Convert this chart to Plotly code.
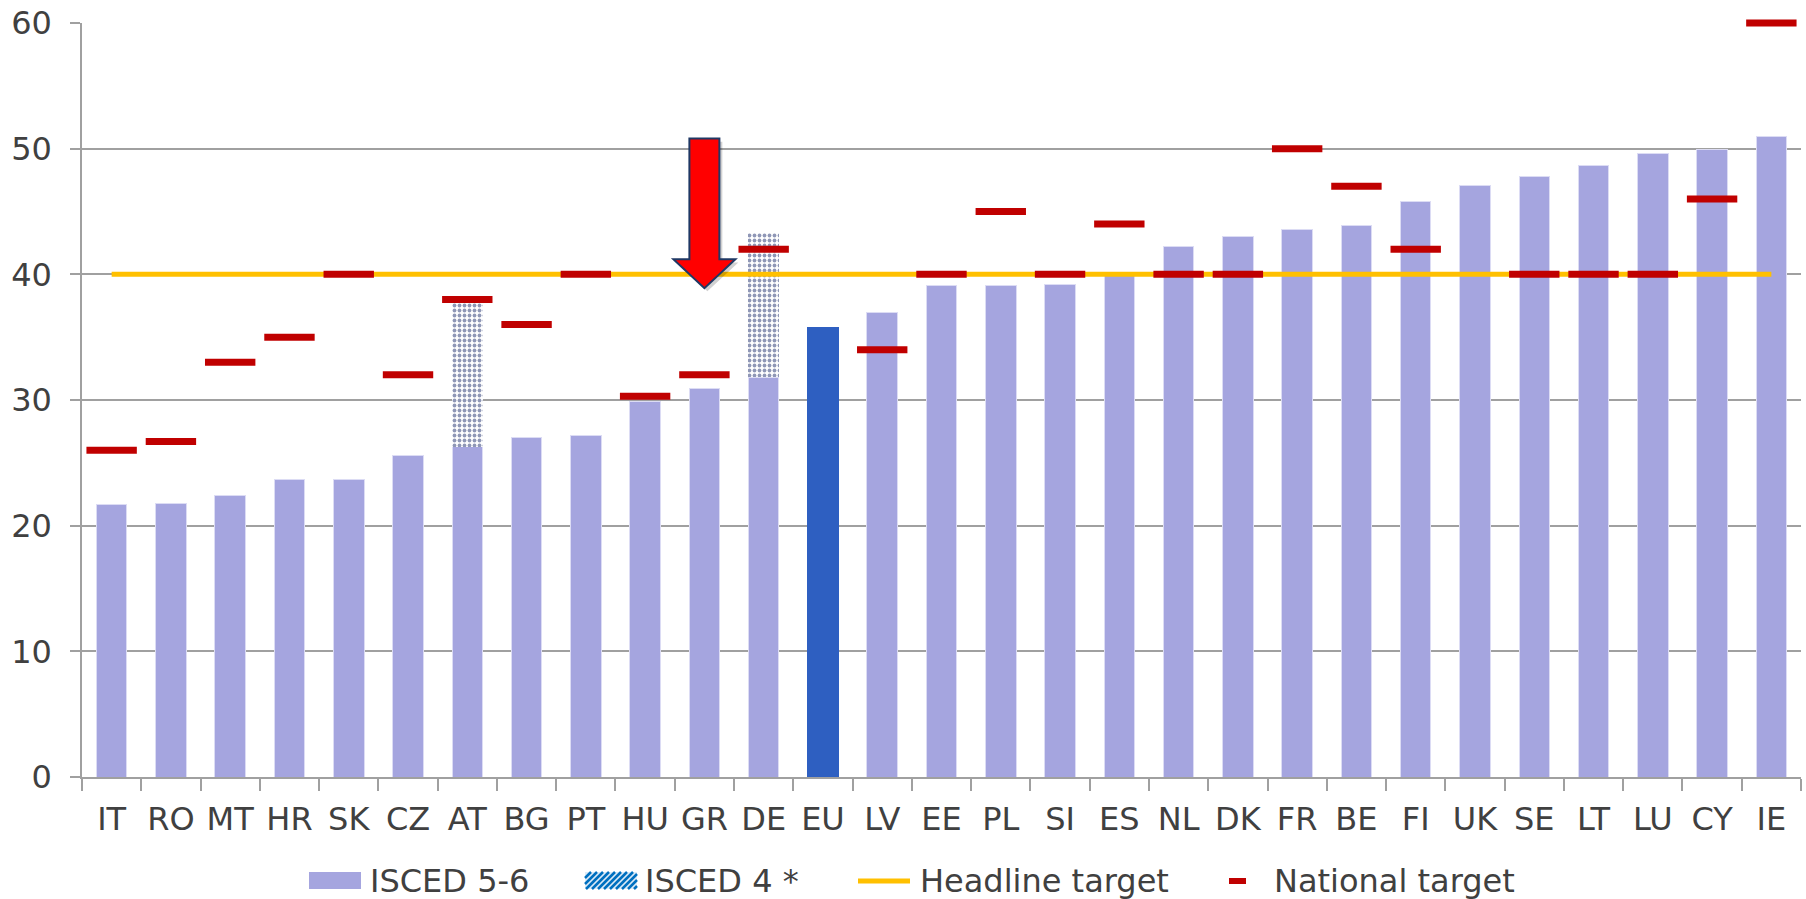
import plotly.graph_objects as go

# ---------------- data ----------------
countries = ["IT", "RO", "MT", "HR", "SK", "CZ", "AT", "BG", "PT", "HU", "GR", "DE", "EU", "LV", "EE",
             "PL", "SI", "ES", "NL", "DK", "FR", "BE", "FI", "UK", "SE", "LT", "LU", "CY", "IE"]
isced_5_6 = [21.7, 21.8, 22.4, 23.7, 23.7, 25.6, 26.3, 27.0, 27.2, 29.9, 30.9, 31.8, 35.8, 37.0, 39.1,
             39.1, 39.2, 40.0, 42.2, 43.0, 43.6, 43.9, 45.8, 47.1, 47.8, 48.7, 49.6, 49.9, 51.0]
isced_4 = [None, None, None, None, None, None, 11.5, None, None, None, None, 11.5, None, None, None,
           None, None, None, None, None, None, None, None, None, None, None, None, None, None]
national_target = [26, 26.7, 33, 35, 40, 32, 38, 36, 40, 30.3, 32, 42, None, 34, 40,
                   45, 40, 44, 40, 40, 50, 47, 42, None, 40, 40, 40, 46, 60]
headline_target = 40
y_ticks = [0, 10, 20, 30, 40, 50, 60]
legend_labels = ["ISCED 5-6", "ISCED 4 *", "Headline target", "National target"]
arrow_country = "GR"
arrow_top, arrow_head, arrow_tip = 50.8, 41.2, 38.9

# ---------------- styles ----------------
PURPLE = "#A5A5DF"
EU_BLUE = "#2E5FC1"
YELLOW = "#FFC000"
RED = "#C00000"
GRID = "#A0A0A0"
TEXT = "#404040"
FONT = "Verdana, DejaVu Sans, sans-serif"

W, H = 1806, 899
L, R, T, B = 82, 5, 23, 122
PW, PH = W - L - R, H - T - B
N = len(countries)

bar_colors = [EU_BLUE if c == "EU" else PURPLE for c in countries]
bar_lines = [EU_BLUE if c == "EU" else "#DCDCF4" for c in countries]

fig = go.Figure()
fig.add_trace(go.Bar(
    x=countries, y=isced_5_6, name=legend_labels[0],
    marker=dict(color=bar_colors, line=dict(color=bar_lines, width=1)),
    showlegend=False,
))
fig.add_trace(go.Bar(
    x=countries, y=isced_4, name=legend_labels[1],
    marker=dict(color="white", line=dict(width=0),
                pattern=dict(shape=".", fgcolor="#1F2F6E", bgcolor="white", size=5, solidity=0.45)),
    showlegend=False,
))
fig.add_trace(go.Scatter(
    x=countries, y=[headline_target] * N, name=legend_labels[2],
    mode="lines", line=dict(color=YELLOW, width=5), showlegend=False,
))
fig.add_trace(go.Scatter(
    x=countries, y=national_target, name=legend_labels[3],
    mode="markers", marker=dict(symbol="line-ew", size=36, line=dict(color=RED, width=7)),
    showlegend=False, cliponaxis=False,
))

# ---------------- arrow (shape in category serial units) ----------------
xc = countries.index(arrow_country)
sw, hw = 15 / (PW / N), 31 / (PW / N)
def arrow_path(dx=0.0, dy=0.0):
    pts = [(xc - sw, arrow_top), (xc + sw, arrow_top), (xc + sw, arrow_head), (xc + hw, arrow_head),
           (xc, arrow_tip), (xc - hw, arrow_head), (xc - sw, arrow_head)]
    return "M" + " L".join(f"{x + dx},{y + dy}" for x, y in pts) + " Z"

shapes = [
    dict(type="path", xref="x", yref="y", path=arrow_path(0.05, -0.25),
         fillcolor="rgba(0,0,0,0.18)", line=dict(width=0), layer="above"),
    dict(type="path", xref="x", yref="y", path=arrow_path(),
         fillcolor="#FF0000", line=dict(color="#1F3864", width=2), layer="above"),
]

# ---------------- manual legend ----------------
def px(x):
    return (x - L) / PW
def py(y):
    return (H - B - y) / PH

ly0, ly1, lyc = 872, 889, 881
shapes.append(dict(type="rect", xref="paper", yref="paper", x0=px(309), x1=px(361), y0=py(ly1), y1=py(ly0),
                   fillcolor=PURPLE, line=dict(width=0)))
hx0, hx1 = 585, 637
shapes.append(dict(type="rect", xref="paper", yref="paper", x0=px(hx0), x1=px(hx1), y0=py(ly1), y1=py(ly0),
                   fillcolor="#DDEBF7", line=dict(width=0)))
bw, bh = hx1 - hx0, ly1 - ly0
segs = []
k = -bh
while k < bw:
    v0, v1 = max(0, -k), min(bh, bw - k)
    if v1 > v0:
        u0, u1 = k + v0, k + v1
        segs.append(f"M{px(hx0 + u0)},{py(ly1 - v0)} L{px(hx0 + u1)},{py(ly1 - v1)}")
    k += 6
shapes.append(dict(type="path", xref="paper", yref="paper", path=" ".join(segs),
                   line=dict(color="#0070C0", width=2.5)))
shapes.append(dict(type="line", xref="paper", yref="paper", x0=px(858), x1=px(910), y0=py(lyc), y1=py(lyc),
                   line=dict(color=YELLOW, width=5)))
shapes.append(dict(type="rect", xref="paper", yref="paper", x0=px(1229), x1=px(1246), y0=py(lyc + 3), y1=py(lyc - 3),
                   fillcolor=RED, line=dict(width=0)))

annotations = []
for label, xl in zip(legend_labels, [368, 643, 918, 1272]):
    annotations.append(dict(text=label, xref="paper", yref="paper", x=px(xl), y=py(lyc),
                            xanchor="left", yanchor="middle", showarrow=False,
                            font=dict(family=FONT, size=32, color=TEXT)))

fig.update_layout(
    width=W, height=H,
    margin=dict(l=L, r=R, t=T, b=B, autoexpand=False),
    paper_bgcolor="white", plot_bgcolor="white",
    barmode="stack", bargap=0.485,
    showlegend=False,
    shapes=shapes, annotations=annotations,
    font=dict(family=FONT, size=32, color=TEXT),
)
fig.update_xaxes(
    type="category", range=[-0.5, N - 0.5], autorange=False,
    tickson="boundaries", ticks="outside", ticklen=12, tickcolor=GRID, tickwidth=1.5,
    showline=True, linecolor=GRID, linewidth=1.5, showgrid=False, tickangle=0,
    tickfont=dict(family=FONT, size=32, color=TEXT), ticklabelstandoff=13,
)
fig.update_yaxes(
    range=[0, 60], autorange=False, tickvals=y_ticks, ticks="outside", ticklen=10, tickcolor=GRID, tickwidth=1.5,
    showline=True, linecolor=GRID, linewidth=1.5, showgrid=True, gridcolor=GRID, gridwidth=1.5,
    zeroline=False, tickfont=dict(family=FONT, size=32, color=TEXT), ticklabelstandoff=12,
)

fig.write_html("out.html", config={"displayModeBar": False},
               post_script="document.body.style.margin='0';document.body.style.overflow='hidden';")
